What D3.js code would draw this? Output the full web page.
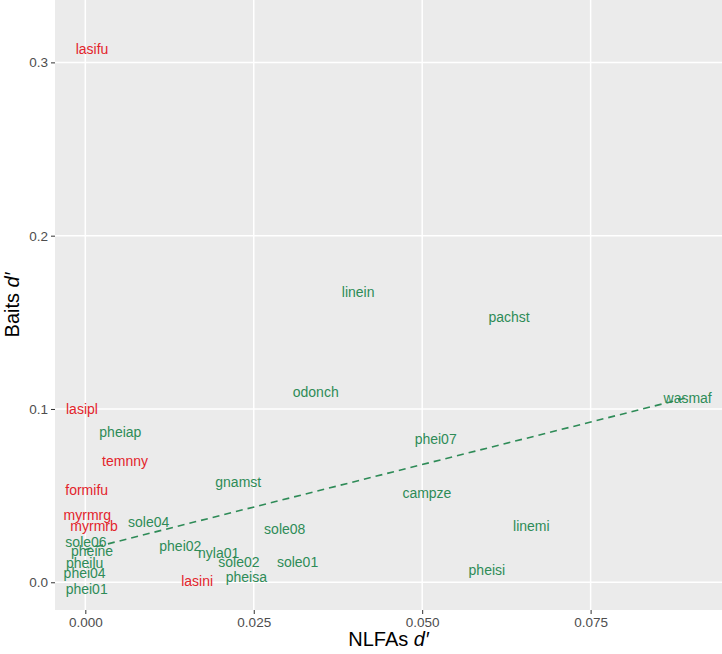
<!DOCTYPE html>
<html>
<head>
<meta charset="utf-8">
<script src="https://cdn.jsdelivr.net/npm/d3@7"></script>
<style>
    body { margin: 0; background: #fff; }
    svg { display: block; font-family: "Liberation Sans", Arial, Helvetica, sans-serif; }
</style>
</head>
<body>
<svg id="chart" width="722" height="654"></svg>
<script>
// species codes, NLFAs d' (x), Baits d' (y), group
const species = ["lasifu", "linein", "pachst", "odonch", "wasmaf", "lasipl", "pheiap", "temnny",
    "formifu", "gnamst", "myrmrg", "myrmrb", "sole04", "sole06", "pheine", "pheilu", "phei04",
    "phei01", "phei02", "nyla01", "sole02", "lasini", "pheisa", "sole08", "sole01", "phei07",
    "campze", "linemi", "pheisi"];
const nlfaD = [0.0010, 0.0405, 0.0629, 0.0342, 0.0894, -0.0005, 0.0052, 0.0059,
    0.0002, 0.0227, 0.0003, 0.0013, 0.0094, 0.0001, 0.0010, -0.0001, -0.0001,
    0.0002, 0.0141, 0.0198, 0.0228, 0.0166, 0.0239, 0.0296, 0.0315, 0.0520,
    0.0507, 0.0662, 0.0596];
const baitD = [0.3077, 0.1677, 0.1533, 0.1098, 0.1063, 0.0998, 0.0869, 0.0702,
    0.0533, 0.0580, 0.0388, 0.0325, 0.0346, 0.0234, 0.0181, 0.0110, 0.0052,
    -0.0040, 0.0209, 0.0167, 0.0119, 0.0008, 0.0027, 0.0308, 0.0117, 0.0827,
    0.0514, 0.0327, 0.0071];
const group = ["red", "green", "green", "green", "green", "red", "green", "red",
    "red", "green", "red", "red", "green", "green", "green", "green", "green",
    "green", "green", "green", "green", "red", "green", "green", "green", "green",
    "green", "green", "green"];
const xTicks = [0, 0.025, 0.05, 0.075];
const yTicks = [0, 0.1, 0.2, 0.3];

const colors = { red: "#E3242B", green: "#2E8B57" };

const data = species.map((s, i) => ({ label: s, x: nlfaD[i], y: baitD[i], g: group[i] }));

const svg = d3.select("#chart");
const panel = { left: 55, right: 722, top: 0, bottom: 610 };

const x = d3.scaleLinear().domain([-0.0045, 0.0945]).range([panel.left, panel.right]);
const y = d3.scaleLinear().domain([-0.016, 0.336]).range([panel.bottom, panel.top]);

// panel background
svg.append("rect")
    .attr("x", panel.left).attr("y", panel.top)
    .attr("width", panel.right - panel.left).attr("height", panel.bottom - panel.top)
    .attr("fill", "#EBEBEB");

// grid
svg.append("g").selectAll("line").data(xTicks).enter().append("line")
    .attr("x1", d => x(d)).attr("x2", d => x(d))
    .attr("y1", panel.top).attr("y2", panel.bottom)
    .attr("stroke", "#fff").attr("stroke-width", 1.5);
svg.append("g").selectAll("line").data(yTicks).enter().append("line")
    .attr("y1", d => y(d)).attr("y2", d => y(d))
    .attr("x1", panel.left).attr("x2", panel.right)
    .attr("stroke", "#fff").attr("stroke-width", 1.5);

// axes
const xAxis = svg.append("g")
    .attr("transform", `translate(0,${panel.bottom})`)
    .call(d3.axisBottom(x).tickValues(xTicks).tickFormat(d3.format(".3f")).tickSize(4).tickPadding(3));
const yAxis = svg.append("g")
    .attr("transform", `translate(${panel.left},0)`)
    .call(d3.axisLeft(y).tickValues(yTicks).tickFormat(d3.format(".1f")).tickSize(4).tickPadding(3));
[xAxis, yAxis].forEach(a => {
    a.attr("font-size", null).attr("font-family", null);
    a.select(".domain").remove();
    a.selectAll(".tick line").attr("stroke", "#333").attr("stroke-width", 1);
    a.selectAll(".tick text").attr("fill", "#4D4D4D").style("font-size", "13.5px");
});

// linear fit on green group
const green = data.filter(d => d.g === "green");
const mx = d3.mean(green, d => d.x);
const my = d3.mean(green, d => d.y);
const slope = d3.sum(green, d => (d.x - mx) * (d.y - my)) / d3.sum(green, d => (d.x - mx) ** 2);
const icpt = my - slope * mx;
const xr = d3.extent(green, d => d.x);
const fit = xr.map(v => ({ x: v, y: icpt + slope * v }));

svg.append("path")
    .datum(fit)
    .attr("d", d3.line().x(d => x(d.x)).y(d => y(d.y)))
    .attr("fill", "none")
    .attr("stroke", "#2E8B57")
    .attr("stroke-width", 1.6)
    .attr("stroke-dasharray", "7,5");

// labels
svg.append("g").selectAll("text").data(data).enter().append("text")
    .attr("x", d => x(d.x))
    .attr("y", d => y(d.y))
    .attr("dy", "0.35em")
    .attr("text-anchor", "middle")
    .attr("fill", d => colors[d.g])
    .style("font-size", "14px")
    .text(d => d.label);

// axis titles
const xt = svg.append("text")
    .attr("x", (panel.left + panel.right) / 2)
    .attr("y", 646)
    .attr("text-anchor", "middle")
    .style("font-size", "20px")
    .attr("fill", "#000");
xt.append("tspan").text("NLFAs ");
xt.append("tspan").style("font-style", "italic").text("d\u2032");

const yt = svg.append("text")
    .attr("transform", `translate(19,${(panel.top + panel.bottom) / 2}) rotate(-90)`)
    .attr("text-anchor", "middle")
    .style("font-size", "20px")
    .attr("fill", "#000");
yt.append("tspan").text("Baits ");
yt.append("tspan").style("font-style", "italic").text("d\u2032");
</script>
</body>
</html>
